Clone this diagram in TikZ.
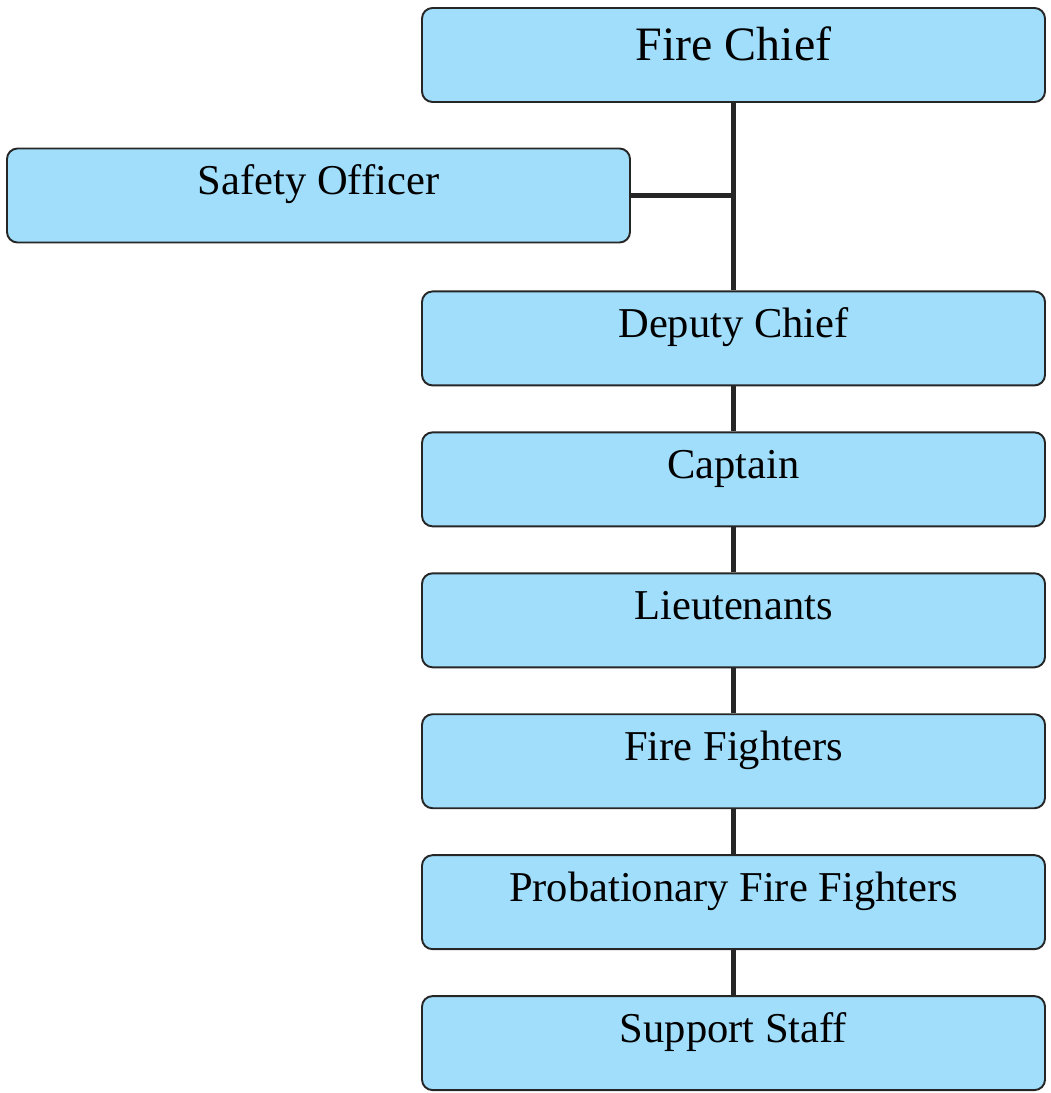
\documentclass[tikz,border=0pt]{standalone}
\usepackage{fontspec}
\setmainfont{Liberation Serif}
\usetikzlibrary{positioning}
\definecolor{rankblue}{RGB}{160,222,251}

\begin{document}
\begin{tikzpicture}[
  rank/.style={draw=black!85, line width=1.1pt, rounded corners=6pt,
               fill=rankblue, minimum width=12.46cm, inner ysep=0pt,
               text height=0.92cm, text depth=0.96cm,
               font=\fontsize{24.2}{28}\selectfont},
  chief/.style={rank, text height=1.06cm, text depth=0.82cm,
                font=\fontsize{27.3}{32}\selectfont},
  link/.style={line width=2.8pt, draw=black!85},
]
\useasboundingbox (0,0) rectangle (21,-21.86);
% Top of the chain
\node[chief] (fc) at (14.67,-1.1) {Fire Chief};
% Staff position beside the chain
\node[rank] (so) at (6.37,-3.91) {Safety Officer};

% Chain of command
\node[rank, below=3.75cm of fc] (dc) {Deputy Chief};
\node[rank, below=0.90cm of dc] (cap) {Captain};
\node[rank, below=0.90cm of cap] (lt) {Lieutenants};
\node[rank, below=0.90cm of lt] (ff) {Fire Fighters};
\node[rank, below=0.90cm of ff] (pff) {Probationary Fire Fighters};
\node[rank, below=0.90cm of pff] (ss) {Support Staff};

% Connectors
\draw[link] (fc) -- (dc);
\draw[link] (so.east) -- (so.east -| fc.south);
\draw[link] (dc) -- (cap);
\draw[link] (cap) -- (lt);
\draw[link] (lt) -- (ff);
\draw[link] (ff) -- (pff);
\draw[link] (pff) -- (ss);
\end{tikzpicture}
\end{document}
